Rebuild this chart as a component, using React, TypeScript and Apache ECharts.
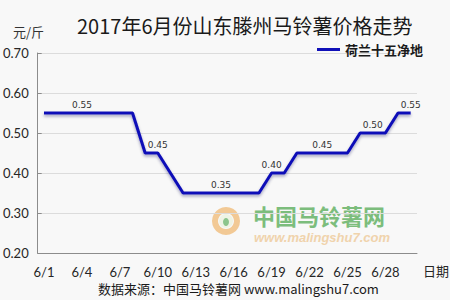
import React, { useEffect, useRef } from "react";
import * as echarts from "echarts";

const categories = [
  "6/1", "6/2", "6/3", "6/4", "6/5", "6/6", "6/7", "6/8", "6/9", "6/10",
  "6/11", "6/12", "6/13", "6/14", "6/15", "6/16", "6/17", "6/18", "6/19", "6/20",
  "6/21", "6/22", "6/23", "6/24", "6/25", "6/26", "6/27", "6/28", "6/29", "6/30",
];
const prices = [
  0.55, 0.55, 0.55, 0.55, 0.55, 0.55, 0.55, 0.55, 0.45, 0.45,
  0.40, 0.35, 0.35, 0.35, 0.35, 0.35, 0.35, 0.35, 0.40, 0.40,
  0.45, 0.45, 0.45, 0.45, 0.45, 0.50, 0.50, 0.50, 0.55, 0.55,
];
const labelledIndices = [3, 9, 14, 18, 22, 26, 29];
const seriesName = "荷兰十五净地";
const titleText = "2017年6月份山东滕州马铃薯价格走势";
const unitText = "元/斤";
const xAxisName = "日期";
const sourceText = "数据来源：中国马铃薯网 www.malingshu7.com";
const watermarkName = "中国马铃薯网";
const watermarkUrl = "www.malingshu7.com";

export default function App() {
  const ref = useRef<HTMLDivElement>(null);

  useEffect(() => {
    if (!ref.current) return;
    const chart = echarts.init(ref.current, undefined, { renderer: "svg" });
    const cjk = '"Noto Sans CJK SC", "Noto Sans", sans-serif';
    chart.setOption({
      animation: false,
      backgroundColor: "#f8f8f8",
      title: {
        text: titleText,
        left: 72,
        top: 10,
        textStyle: { fontFamily: cjk, fontSize: 20, fontWeight: "normal", color: "#1a1a1a" },
      },
      legend: {
        data: [seriesName],
        left: 312,
        top: 38,
        icon: "rect",
        itemWidth: 23,
        itemHeight: 3,
        itemGap: 5,
        textStyle: { fontFamily: cjk, fontSize: 13, fontWeight: "bold", color: "#1a1a1a" },
      },
      grid: { left: 33, right: 33, top: 53, bottom: 47, containLabel: false },
      xAxis: {
        type: "category",
        data: categories,
        boundaryGap: true,
        axisLine: { lineStyle: { color: "#8c8c8c", width: 1 } },
        axisTick: { inside: true, length: 4, interval: 0, lineStyle: { color: "#8c8c8c" } },
        axisLabel: {
          interval: 2,
          margin: 12,
          fontFamily: "Lato, sans-serif",
          fontSize: 13,
          color: "#262626",
        },
        splitLine: { show: false },
      },
      yAxis: {
        type: "value",
        min: 0.2,
        max: 0.7,
        interval: 0.1,
        axisLine: { show: true, lineStyle: { color: "#8c8c8c", width: 1 } },
        axisTick: { show: true, inside: true, length: 4, lineStyle: { color: "#8c8c8c" } },
        axisLabel: {
          margin: 9,
          fontFamily: "Lato, sans-serif",
          fontSize: 13,
          color: "#262626",
          formatter: (v: number) => v.toFixed(2),
        },
        splitLine: { lineStyle: { color: "#dcdcdc", width: 1 } },
      },
      series: [
        {
          name: seriesName,
          type: "line",
          symbol: "circle",
          symbolSize: 0,
          showSymbol: true,
          data: prices.map((v, i) =>
            labelledIndices.includes(i)
              ? {
                  value: v,
                  label: {
                    show: true,
                    position: "top",
                    distance: 4,
                    fontFamily: '"DejaVu Sans", sans-serif',
                    fontSize: 9,
                    color: "#333333",
                    formatter: (p: any) => Number(p.value).toFixed(2),
                  },
                }
              : v
          ),
          lineStyle: {
            color: "#1010b8",
            width: 3,
            shadowColor: "rgba(0,0,80,0.35)",
            shadowBlur: 3,
            shadowOffsetY: 2,
          },
          itemStyle: { color: "#1010b8" },
          z: 3,
        },
      ],
      graphic: [
        {
          type: "text",
          left: 13,
          top: 25,
          style: { text: unitText, fontFamily: cjk, fontSize: 13, fill: "#333333" },
        },
        {
          type: "text",
          left: 423,
          top: 264,
          style: { text: xAxisName, fontFamily: cjk, fontSize: 13, fill: "#262626" },
        },
        {
          type: "text",
          left: 98,
          top: 282,
          style: { text: sourceText, fontFamily: cjk, fontSize: 13, fill: "#1a1a1a" },
        },
        {
          type: "group",
          left: 212,
          top: 204,
          z: 1,
          children: [
            {
              type: "ring",
              shape: { cx: 14, cy: 15, r: 14, r0: 8 },
              style: { fill: "#f2c995" },
            },
            {
              type: "circle",
              shape: { cx: 14, cy: 15, r: 7 },
              style: { fill: "#eef3e4" },
            },
            {
              type: "ellipse",
              shape: { cx: 14, cy: 16, rx: 3, ry: 4 },
              style: { fill: "#8cc58c" },
            },
            {
              type: "text",
              x: 41,
              y: -2,
              style: {
                text: watermarkName,
                fontFamily: cjk,
                fontSize: 22,
                fontWeight: "bold",
                fill: "#7cbd7c",
              },
            },
            {
              type: "text",
              x: 42,
              y: 25,
              style: {
                text: watermarkUrl,
                fontFamily: '"Liberation Sans", sans-serif',
                fontSize: 13,
                fontWeight: "bold",
                fontStyle: "italic",
                fill: "#f0d3ac",
              },
            },
          ],
        },
      ],
    });
    return () => chart.dispose();
  }, []);

  return (
    <div
      ref={ref}
      style={{ position: "fixed", left: 0, top: 0, width: 450, height: 300 }}
    />
  );
}
